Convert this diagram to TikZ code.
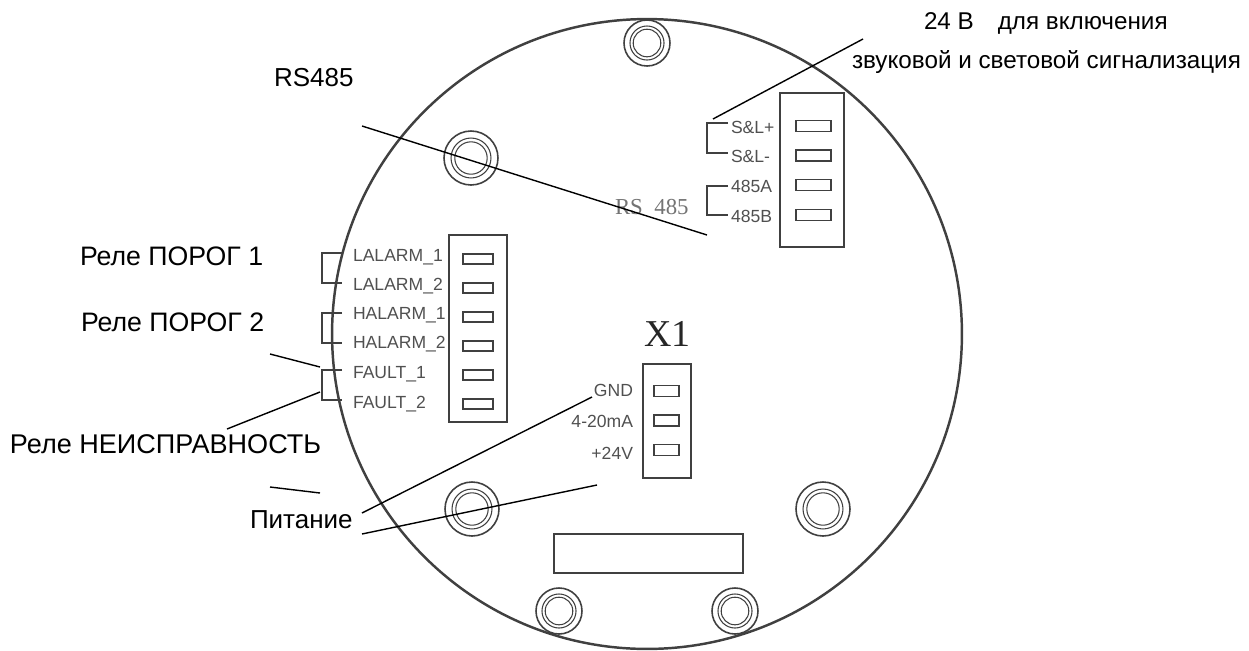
\documentclass[tikz,border=0pt]{standalone}
\usepackage{fontspec}
\setmainfont{Liberation Sans}
\newfontfamily\serifface{Liberation Serif}
\usetikzlibrary{positioning}
\definecolor{boardc}{HTML}{404040}
\definecolor{printc}{HTML}{505050}

\begin{document}
\begin{tikzpicture}[x=0.02cm,y=-0.02cm,node distance=0.38cm,
  every node/.style={inner sep=0pt,outer sep=0pt},
  callout/.style={anchor=base west,font=\fontsize{15.2}{17}\selectfont},
  calloutsmall/.style={anchor=base west,font=\fontsize{13.8}{16}\selectfont},
  pinlabel/.style={anchor=base west,text=printc,font=\fontsize{10}{12}\selectfont},
  pinlabelr/.style={pinlabel,anchor=base east},
  housing/.style={draw=boardc,line width=0.9pt,rectangle},
  slot/.style={draw=boardc,line width=0.8pt,rectangle,minimum height=0.2cm},
  plate/.style={draw=boardc,line width=1.4pt,circle,minimum size=12.6cm},
  wire/.style={draw=boardc,line width=0.6pt},
  leader/.style={draw=black,line width=0.8pt}]
        \useasboundingbox (0,0) rectangle (1249,650);

        \node (plate) [plate] at (647,334) {};

        % mounting holes
        \foreach \hx/\hy/\hr in {647/43/23,471/158/27,472/509/27,823/509/27,559/611/23,735/611/23} {
          \draw[draw=boardc,line width=0.9pt,fill=white] (\hx,\hy) circle [radius=\hr];
          \draw[draw=boardc,line width=0.6pt] (\hx,\hy) circle [radius=0.74*\hr];
          \draw[draw=boardc,line width=0.6pt] (\hx,\hy) circle [radius=0.6*\hr];
        }

        % terminal blocks
        \node (leftbox) [housing,minimum width=1.16cm,minimum height=3.74cm] at (478,328.5) {};
        \node (rightbox) [housing,minimum width=1.28cm,minimum height=3.08cm] at (812,170) {};
        \node (xbox) [housing,minimum width=0.96cm,minimum height=2.28cm] at (667,421) {};
        \node (plaque) [housing,minimum width=3.78cm,minimum height=0.78cm] at (648.5,553.5) {};

        \node (L1) [slot,minimum width=0.6cm] at (478,259) {};
        \node (L2) [slot,minimum width=0.6cm,below = of L1] {};
        \node (L3) [slot,minimum width=0.6cm,below = of L2] {};
        \node (L4) [slot,minimum width=0.6cm,below = of L3] {};
        \node (L5) [slot,minimum width=0.6cm,below = of L4] {};
        \node (L6) [slot,minimum width=0.6cm,below = of L5] {};

        \node (R1) [slot,minimum width=0.7cm,minimum height=0.22cm] at (813.5,126) {};
        \node (R2) [slot,minimum width=0.7cm,minimum height=0.22cm,below = 0.372cm of R1] {};
        \node (R3) [slot,minimum width=0.7cm,minimum height=0.22cm,below = 0.372cm of R2] {};
        \node (R4) [slot,minimum width=0.7cm,minimum height=0.22cm,below = 0.372cm of R3] {};

        \node (X1) [slot,minimum width=0.5cm,minimum height=0.22cm] at (666.5,391) {};
        \node (X2) [slot,minimum width=0.5cm,minimum height=0.22cm,below = 0.372cm of X1] {};
        \node (X3) [slot,minimum width=0.5cm,minimum height=0.22cm,below = 0.372cm of X2] {};

        % printed pin names
        \node (lal1) [pinlabel] at (353,261) {LALARM\_1};
        \node (lal2) [pinlabel] at (353,290) {LALARM\_2};
        \node (hal1) [pinlabel] at (353,319) {HALARM\_1};
        \node (hal2) [pinlabel] at (353,348) {HALARM\_2};
        \node (flt1) [pinlabel] at (353,378) {FAULT\_1};
        \node (flt2) [pinlabel] at (353,408) {FAULT\_2};
        \node (sl1) [pinlabel] at (731,133) {S\&L+};
        \node (sl2) [pinlabel] at (731,162) {S\&L-};
        \node (a485) [pinlabel] at (731,192) {485A};
        \node (b485) [pinlabel] at (731,222) {485B};
        \node (gnd) [pinlabelr] at (633,396) {GND};
        \node (ma) [pinlabelr] at (633,427) {4-20mA};
        \node (vcc) [pinlabelr] at (633,459) {+24V};
        \node (xname) [anchor=base west,font=\serifface\fontsize{21.6}{24}\selectfont,text=black!85] at (644,346) {X1};
        \node (rsname) [anchor=base west,font=\serifface\fontsize{13}{15}\selectfont,text=printc!80] at (615,214) {RS\ \ 485};

        % pin brackets
        \foreach \top/\bot in {253/283,313/343,370/400} {
          \coordinate (bt) at (342,\top);
          \coordinate (bb) at (342,\bot);
          \draw[wire] (bt) -- (322,\top) -- (322,\bot) -- (bb);
        }
        \foreach \top/\bot in {123/153,186/215} {
          \coordinate (bt) at (728,\top);
          \coordinate (bb) at (728,\bot);
          \draw[wire] (bt) -- (707,\top) -- (707,\bot) -- (bb);
        }

        % callouts
        \node (siren) [calloutsmall] at (924,29) {24 В\hspace{13.6pt}для включения};
        \node (sirenb) [calloutsmall] at (852,68) {звуковой и световой сигнализация};
        \node (rs) [callout,font=\fontsize{14.8}{16}\selectfont] at (274,86) {RS485};
        \node (thr1) [callout] at (80,265) {Реле ПОРОГ 1};
        \node (thr2) [callout] at (81,331) {Реле ПОРОГ 2};
        \node (fault) [callout,font=\fontsize{15.4}{17}\selectfont] at (10,453) {Реле НЕИСПРАВНОСТЬ};
        \node (power) [callout,font=\fontsize{14.8}{16}\selectfont] at (250,528) {Питание};

        \coordinate (sirenend) at (863,39);
        \coordinate (sirenpin) at (713,119);
        \coordinate (rsend) at (362,126);
        \coordinate (rspin) at (707,235);
        \coordinate (faulta) at (270,354);
        \coordinate (faultb) at (320,367);
        \coordinate (faultc) at (227,429);
        \coordinate (faultd) at (320,392);
        \coordinate (stuba) at (270,487);
        \coordinate (stubb) at (320,493);
        \coordinate (powera) at (362,513);
        \coordinate (powerb) at (592,397);
        \coordinate (powerc) at (362,534);
        \coordinate (powerd) at (597,485);

        \draw[leader] (sirenend) -- (sirenpin);
        \draw[leader] (rsend) -- (rspin);
        \draw[leader] (faulta) -- (faultb);
        \draw[leader] (faultc) -- (faultd);
        \draw[leader] (stuba) -- (stubb);
        \draw[leader] (powera) -- (powerb);
        \draw[leader] (powerc) -- (powerd);
\end{tikzpicture}
\end{document}
